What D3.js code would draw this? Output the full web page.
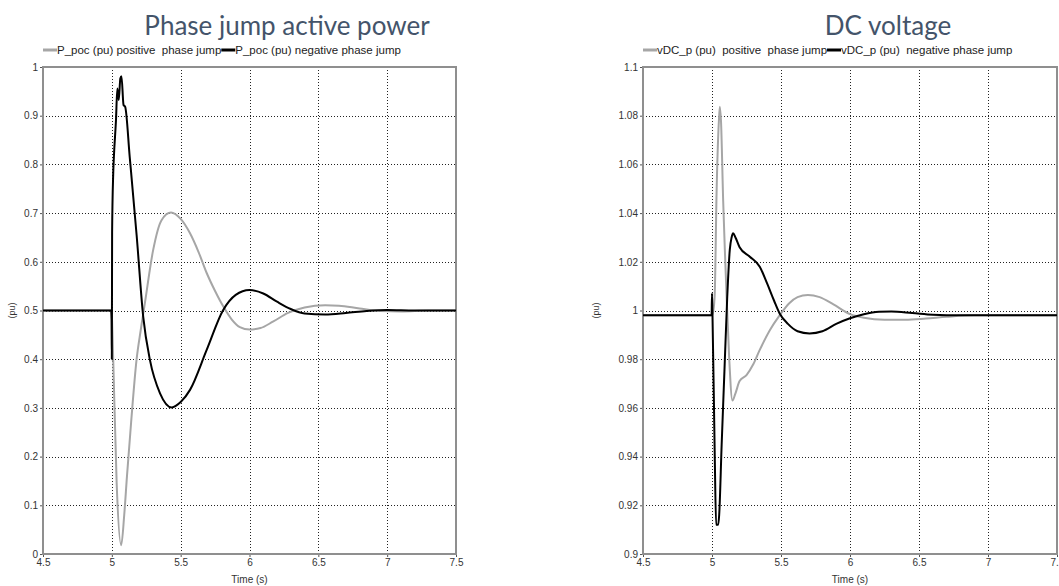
<!DOCTYPE html>
<html><head><meta charset="utf-8">
<script src="https://cdn.jsdelivr.net/npm/d3@7"></script>
<style>
body{margin:0;background:#fff;}
svg{display:block;}
text{white-space:pre;}
</style></head>
<body>
<svg id="c" width="1059" height="586"></svg>
<script>
// ---------- data ----------
const timeTicks = [4.5, 5, 5.5, 6, 6.5, 7, 7.5];
const pTicks = [0, 0.1, 0.2, 0.3, 0.4, 0.5, 0.6, 0.7, 0.8, 0.9, 1];
const vTicks = [0.9, 0.92, 0.94, 0.96, 0.98, 1, 1.02, 1.04, 1.06, 1.08, 1.1];

const pPosT = [4.5, 4.998, 5.0, 5.01, 5.035, 5.068, 5.09, 5.11, 5.14, 5.18, 5.21, 5.24, 5.30, 5.36, 5.43, 5.50, 5.567, 5.63, 5.689, 5.75, 5.81, 5.87, 5.93, 6.0, 6.08, 6.17, 6.28, 6.4, 6.55, 6.65, 6.8, 6.95, 7.1, 7.3, 7.5];
const pPosV = [0.5, 0.5, 0.49, 0.40, 0.146, 0.018, 0.08, 0.16, 0.27, 0.40, 0.46, 0.515, 0.624, 0.685, 0.701, 0.688, 0.659, 0.62, 0.577, 0.54, 0.508, 0.482, 0.466, 0.461, 0.464, 0.477, 0.495, 0.506, 0.511, 0.510, 0.504, 0.499, 0.498, 0.5, 0.5];

const pNegT = [4.5, 4.995, 4.998, 5.0, 5.002, 5.01, 5.015, 5.03, 5.04, 5.05, 5.062, 5.07, 5.085, 5.097, 5.13, 5.18, 5.228, 5.277, 5.35, 5.435, 5.5, 5.568, 5.689, 5.807, 5.9, 6.0, 6.1, 6.2, 6.3, 6.4, 6.55, 6.7, 6.85, 7.0, 7.2, 7.5];
const pNegV = [0.5, 0.5, 0.48, 0.40, 0.66, 0.78, 0.816, 0.89, 0.956, 0.932, 0.977, 0.981, 0.922, 0.918, 0.815, 0.655, 0.487, 0.398, 0.33, 0.301, 0.312, 0.337, 0.419, 0.5, 0.532, 0.542, 0.535, 0.518, 0.503, 0.494, 0.492, 0.495, 0.499, 0.501, 0.5, 0.5];

const vPosT = [4.5, 4.998, 5.01, 5.02, 5.033, 5.05, 5.057, 5.065, 5.081, 5.093, 5.105, 5.125, 5.148, 5.17, 5.2, 5.25, 5.3, 5.346, 5.42, 5.49, 5.56, 5.62, 5.695, 5.78, 5.88, 6.0, 6.1, 6.25, 6.4, 6.55, 6.7, 6.9, 7.5];
const vPosV = [0.998, 0.998, 1.0, 1.007, 1.048, 1.078, 1.0837, 1.078, 1.045, 1.025, 1.007, 0.98, 0.963, 0.966, 0.971, 0.9735, 0.978, 0.9838, 0.992, 0.998, 1.003, 1.0055, 1.0064, 1.0055, 1.0025, 0.9985, 0.997, 0.9962, 0.9962, 0.9967, 0.9974, 0.998, 0.998];

const vNegT = [4.5, 4.997, 5.0, 5.003, 5.02, 5.03, 5.045, 5.052, 5.07, 5.09, 5.11, 5.129, 5.142, 5.153, 5.17, 5.2, 5.274, 5.346, 5.4, 5.45, 5.49, 5.55, 5.62, 5.707, 5.8, 5.9, 6.0, 6.1, 6.21, 6.3, 6.45, 6.6, 6.8, 7.5];
const vNegV = [0.998, 0.998, 1.007, 1.0, 0.94, 0.912, 0.912, 0.916, 0.945, 0.975, 1.005, 1.025, 1.030, 1.0317, 1.030, 1.026, 1.0221, 1.018, 1.011, 1.004, 0.9988, 0.9945, 0.9915, 0.9906, 0.9915, 0.9945, 0.9968, 0.9985, 0.9995, 0.9996, 0.999, 0.9983, 0.998, 0.998];

const titles = ["Phase jump active power", "DC voltage"];
const legendLeft = ["P_poc (pu) positive  phase jump", "P_poc (pu) negative phase jump"];
const legendRight = ["vDC_p (pu)  positive  phase jump", "vDC_p (pu)  negative phase jump"];
const xTitle = "Time (s)";
const yTitle = "(pu)";

// ---------- drawing ----------
const svg = d3.select("#c");
const colPos = "#a6a6a6", colNeg = "#000000";

function panel(opt) {
  const {x0, x1, y0, y1, yDomain, yTickVals, yFmt, sPos, sNeg, title, titleX, legend} = opt;
  const x = d3.scaleLinear().domain([4.5, 7.5]).range([x0, x1]);
  const y = d3.scaleLinear().domain(yDomain).range([y1, y0]);
  const g = svg.append("g");

  // title
  g.append("text").attr("x", titleX).attr("y", 35).attr("text-anchor", "middle")
    .attr("font-family", "Lato, 'Open Sans', sans-serif").attr("font-size", 26)
    .attr("fill", "#44546A").text(title);

  // legend
  let lx = x0;
  legend.forEach((t, i) => {
    g.append("line").attr("x1", lx).attr("x2", lx + 14).attr("y1", 50).attr("y2", 50)
      .attr("stroke", i === 0 ? colPos : colNeg).attr("stroke-width", 3);
    const tt = g.append("text").attr("x", lx + 14).attr("y", 54)
      .attr("font-family", "'Liberation Sans', Arial, sans-serif").attr("font-size", 11.5)
      .attr("fill", "#222").text(t);
    lx += 14 + tt.node().getComputedTextLength();
  });

  // grid
  const grid = g.append("g").attr("stroke", "#222").attr("stroke-width", 1).attr("stroke-dasharray", "1,2");
  grid.selectAll("line.v").data(timeTicks.slice(1, -1)).join("line")
    .attr("x1", d => Math.round(x(d)) + 0.5).attr("x2", d => Math.round(x(d)) + 0.5)
    .attr("y1", y0).attr("y2", y1);
  grid.selectAll("line.h").data(yTickVals.slice(1, -1)).join("line")
    .attr("y1", d => Math.round(y(d)) + 0.5).attr("y2", d => Math.round(y(d)) + 0.5)
    .attr("x1", x0).attr("x2", x1);

  // axes
  const ax = g.append("g").attr("transform", `translate(0,${y1})`)
    .call(d3.axisBottom(x).tickValues(timeTicks).tickSize(3).tickPadding(2).tickFormat(d3.format("")));
  const ay = g.append("g").attr("transform", `translate(${x0},0)`)
    .call(d3.axisLeft(y).tickValues(yTickVals).tickSize(3).tickPadding(2).tickFormat(yFmt));
  [ax, ay].forEach(a => {
    a.select(".domain").remove();
    a.selectAll(".tick line").attr("stroke", "#555");
    a.selectAll("text").attr("font-family", "'Liberation Sans', Arial, sans-serif")
      .attr("font-size", 10).attr("fill", "#333");
  });

  // frame
  g.append("rect").attr("x", x0).attr("y", y0).attr("width", x1 - x0).attr("height", y1 - y0)
    .attr("fill", "none").attr("stroke", "#8f8f8f").attr("stroke-width", 2);

  // series
  const line = d3.line().x(d => x(d[0])).y(d => y(d[1])).curve(d3.curveMonotoneX);
  g.append("path").datum(sPos).attr("d", line).attr("fill", "none")
    .attr("stroke", colPos).attr("stroke-width", 2);
  g.append("path").datum(sNeg).attr("d", line).attr("fill", "none")
    .attr("stroke", colNeg).attr("stroke-width", 2);

  // axis titles
  g.append("text").attr("x", (x0 + x1) / 2).attr("y", 583).attr("text-anchor", "middle")
    .attr("font-family", "'Liberation Sans', Arial, sans-serif").attr("font-size", 10)
    .attr("fill", "#333").text(xTitle);
  g.append("text").attr("transform", `translate(${opt.yLabelX},${(y0 + y1) / 2}) rotate(-90)`)
    .attr("text-anchor", "middle")
    .attr("font-family", "'Liberation Sans', Arial, sans-serif").attr("font-size", 9)
    .attr("fill", "#333").text(yTitle);
}

const zip = (a, b) => a.map((t, i) => [t, b[i]]);

panel({x0: 43, x1: 456, y0: 67, y1: 554, yDomain: [0, 1], yTickVals: pTicks,
  yFmt: d3.format(""), sPos: zip(pPosT, pPosV), sNeg: zip(pNegT, pNegV),
  title: titles[0], titleX: 287, legend: legendLeft, yLabelX: 15});

panel({x0: 643, x1: 1057, y0: 67, y1: 554, yDomain: [0.9, 1.1], yTickVals: vTicks,
  yFmt: d => +d.toFixed(2) + "", sPos: zip(vPosT, vPosV), sNeg: zip(vNegT, vNegV),
  title: titles[1], titleX: 888, legend: legendRight, yLabelX: 599});
</script>
</body></html>
